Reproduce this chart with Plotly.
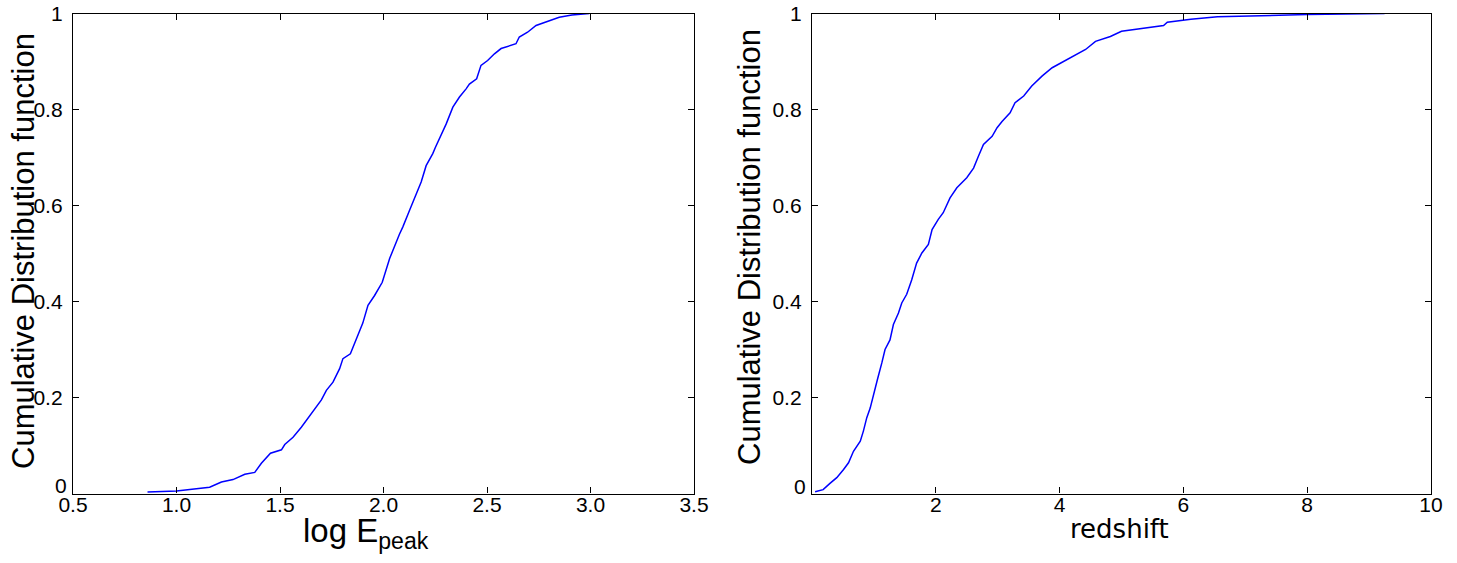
import plotly.graph_objects as go

# Left panel: CDF of log E_peak
epeak_x = [0.86, 1.0, 1.16, 1.217, 1.273, 1.33, 1.378, 1.41, 1.454, 1.507, 1.523, 1.563, 1.603,
           1.643, 1.675, 1.70, 1.724, 1.756, 1.788, 1.804, 1.84, 1.869, 1.90, 1.925, 1.957, 1.994,
           2.03, 2.077, 2.093, 2.126, 2.15, 2.182, 2.206, 2.238, 2.251, 2.279, 2.303, 2.335, 2.367,
           2.399, 2.415, 2.45, 2.471, 2.503, 2.536, 2.568, 2.64, 2.656, 2.696, 2.737, 2.785, 2.849,
           2.91, 2.994]
epeak_cdf = [0.003, 0.005, 0.013, 0.024, 0.029, 0.04, 0.044, 0.063, 0.084, 0.091, 0.102, 0.117,
             0.138, 0.1625, 0.18, 0.195, 0.215, 0.232, 0.26, 0.281, 0.291, 0.322, 0.355, 0.392,
             0.4125, 0.44, 0.49, 0.54, 0.555, 0.59, 0.617, 0.649, 0.683, 0.708, 0.7215, 0.746,
             0.77, 0.805, 0.826, 0.843, 0.853, 0.864, 0.892, 0.902, 0.916, 0.927, 0.937, 0.951,
             0.961, 0.975, 0.982, 0.992, 0.997, 1.0]

# Right panel: CDF of redshift
z_x = [0.05, 0.18, 0.29, 0.40, 0.51, 0.59, 0.67, 0.78, 0.83, 0.885, 0.94, 0.99, 1.057, 1.128,
       1.18, 1.26, 1.315, 1.397, 1.45, 1.53, 1.61, 1.69, 1.775, 1.88, 1.94, 2.04, 2.12, 2.23,
       2.34, 2.50, 2.61, 2.69, 2.77, 2.91, 2.99, 3.07, 3.20, 3.28, 3.42, 3.55, 3.72, 3.88, 4.07,
       4.23, 4.42, 4.58, 4.82, 5.0, 5.68, 5.74, 6.12, 6.55, 7.36, 8.0, 9.25]
z_cdf = [0.0035, 0.008, 0.021, 0.033, 0.05, 0.064, 0.088, 0.109, 0.13, 0.158, 0.178, 0.206,
         0.2375, 0.272, 0.30, 0.32, 0.352, 0.376, 0.397, 0.415, 0.445, 0.48, 0.501, 0.519, 0.55,
         0.571, 0.585, 0.616, 0.637, 0.658, 0.678, 0.703, 0.727, 0.744, 0.762, 0.775, 0.793,
         0.814, 0.828, 0.849, 0.87, 0.887, 0.901, 0.911, 0.925, 0.942, 0.952, 0.963, 0.975,
         0.982, 0.988, 0.993, 0.996, 0.998, 1.0]

left_xticks = [0.5, 1.0, 1.5, 2.0, 2.5, 3.0, 3.5]
left_xlabels = ["0.5", "1.0", "1.5", "2.0", "2.5", "3.0", "3.5"]
right_xticks = [2, 4, 6, 8, 10]
right_xlabels = ["2", "4", "6", "8", "10"]
yticks = [0, 0.2, 0.4, 0.6, 0.8, 1.0]
# the "0" label sits slightly above its tick in the reference; drawn separately below
ylabels = ["", "0.2", "0.4", "0.6", "0.8", "1"]
zero_label = "0"

W, H = 1457, 563
tickfont = dict(family="Liberation Sans, Arial, sans-serif", size=21, color="black")

fig = go.Figure()
fig.add_trace(go.Scatter(x=epeak_x, y=epeak_cdf, mode="lines",
                         line=dict(color="#0000ff", width=1.5), xaxis="x", yaxis="y",
                         showlegend=False))
fig.add_trace(go.Scatter(x=z_x, y=z_cdf, mode="lines",
                         line=dict(color="#0000ff", width=1.5), xaxis="x2", yaxis="y2",
                         showlegend=False))

axis_common = dict(showline=True, linecolor="black", linewidth=1.3, mirror="ticks",
                   ticks="inside", ticklen=6, tickwidth=1, tickcolor="black",
                   showgrid=False, zeroline=False, tickfont=tickfont, automargin=False)

ydom = [1 - 493.5 / H, 1 - 13.5 / H]
fig.update_layout(
    width=W, height=H,
    margin=dict(l=0, r=0, t=0, b=0, autoexpand=False),
    paper_bgcolor="white", plot_bgcolor="white",
    xaxis=dict(domain=[73 / W, 694 / W], range=[0.5, 3.5], tickvals=left_xticks,
               ticktext=left_xlabels, anchor="y", ticklabelstandoff=-8, **axis_common),
    yaxis=dict(domain=ydom, range=[0, 1], tickvals=yticks, ticktext=ylabels,
               anchor="x", ticklabelstandoff=5, **axis_common),
    xaxis2=dict(domain=[812 / W, 1431 / W], range=[0, 10], tickvals=right_xticks,
                ticktext=right_xlabels, anchor="y2", ticklabelstandoff=-8, **axis_common),
    yaxis2=dict(domain=ydom, range=[0, 1], tickvals=yticks, ticktext=ylabels,
                anchor="x2", ticklabelstandoff=5, **axis_common),
)

fig.add_annotation(text=zero_label, xref="paper", yref="paper", x=61 / W, y=1 - 485 / H,
                   showarrow=False, xanchor="center", yanchor="middle", font=tickfont)
fig.add_annotation(text=zero_label, xref="paper", yref="paper", x=800 / W, y=1 - 486 / H,
                   showarrow=False, xanchor="center", yanchor="middle", font=tickfont)

title_font = dict(family="Liberation Sans, Arial, sans-serif", size=31, color="black")
fig.add_annotation(text="Cumulative Distribution function", xref="paper", yref="paper",
                   x=24 / W, y=1 - 251 / H, textangle=-90, showarrow=False,
                   xanchor="center", yanchor="middle", font=title_font)
fig.add_annotation(text="Cumulative Distribution function", xref="paper", yref="paper",
                   x=749 / W, y=1 - 247 / H, textangle=-90, showarrow=False,
                   xanchor="center", yanchor="middle", font=title_font)
fig.add_annotation(text="log E<sub>peak</sub>", xref="paper", yref="paper",
                   x=366 / W, y=1 - 533 / H, showarrow=False,
                   xanchor="center", yanchor="middle",
                   font=dict(family="Liberation Sans, Arial, sans-serif", size=33, color="black"))
fig.add_annotation(text="redshift", xref="paper", yref="paper",
                   x=1119 / W, y=1 - 529 / H, showarrow=False,
                   xanchor="center", yanchor="middle",
                   font=dict(family="DejaVu Sans, sans-serif", size=26, color="black"))

fig.write_html("out.html", config={"displayModeBar": False},
               post_script="document.body.style.margin='0';document.body.style.padding='0';")
